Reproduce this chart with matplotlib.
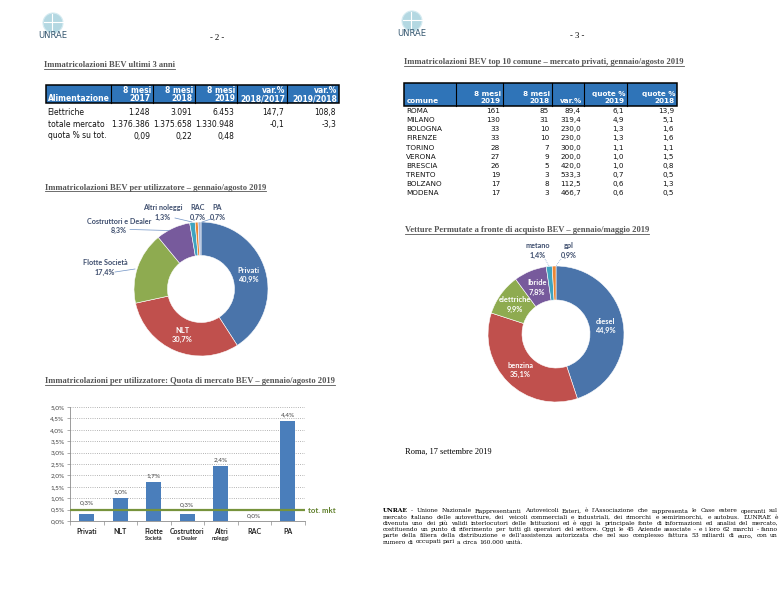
import matplotlib
matplotlib.use("Agg")
import numpy as np
import matplotlib.pyplot as plt
from matplotlib.patches import Rectangle, Ellipse
from matplotlib.lines import Line2D

W, H = 783, 600

# tabella BEV ultimi 3 anni
t1_header = ["Alimentazione", "8 mesi\n2017", "8 mesi\n2018", "8 mesi\n2019", "var.%\n2018/2017", "var.%\n2019/2018"]
t1_labels = ["Elettriche", "totale mercato", "quota % su tot."]
t1_2017 = ["1.248", "1.376.386", "0,09"]
t1_2018 = ["3.091", "1.375.658", "0,22"]
t1_2019 = ["6.453", "1.330.948", "0,48"]
t1_var_18_17 = ["147,7", "-0,1", ""]
t1_var_19_18 = ["108,8", "-3,3", ""]

# top 10 comuni
t2_header = ["comune", "8 mesi\n2019", "8 mesi\n2018", "var.%", "quote %\n2019", "quote %\n2018"]
comuni = ["ROMA", "MILANO", "BOLOGNA", "FIRENZE", "TORINO", "VERONA", "BRESCIA", "TRENTO", "BOLZANO", "MODENA"]
mesi_2019 = [161, 130, 33, 33, 28, 27, 26, 19, 17, 17]
mesi_2018 = [85, 31, 10, 10, 7, 9, 5, 3, 8, 3]
var_pct = ["89,4", "319,4", "230,0", "230,0", "300,0", "200,0", "420,0", "533,3", "112,5", "466,7"]
quote_2019 = ["6,1", "4,9", "1,3", "1,3", "1,1", "1,0", "1,0", "0,7", "0,6", "0,6"]
quote_2018 = ["13,9", "5,1", "1,6", "1,6", "1,1", "1,5", "0,8", "0,5", "1,3", "0,5"]

# donut utilizzatori
utilizzatori = ["Privati", "NLT", "Flotte Società", "Costruttori e Dealer", "Altri noleggi", "RAC", "PA"]
quota_utilizzatori = [40.9, 30.7, 17.4, 8.3, 1.3, 0.7, 0.7]

# donut permute
alimentazioni = ["diesel", "benzina", "elettriche", "Ibride", "metano", "gpl"]
quota_permute = [44.9, 35.1, 9.9, 7.8, 1.4, 0.9]

# barre quota di mercato
bar_cat1 = ["Privati", "NLT", "Flotte", "Costruttori", "Altri", "RAC", "PA"]
bar_cat2 = ["", "", "Società", "e Dealer", "noleggi", "", ""]
quota_bev = [0.3, 1.0, 1.7, 0.3, 2.4, 0.0, 4.4]
tot_mkt = 0.48

BLUE_HDR = "#2f74b8"
PIE_COLORS = ["#4a74aa", "#c0504d", "#8eab50", "#775a9c", "#3fa3bf", "#ec8634", "#a3b6d9"]
TITLE_C = "#555555"
LABEL_C = "#3e4e6e"
SERIF = "Liberation Serif"
SANS = "DejaVu Sans"
CAL = "Lato"

fig = plt.figure(figsize=(W / 100, H / 100), dpi=100)
fig.patch.set_facecolor("white")
renderer = fig.canvas.get_renderer()


def ft(x, y, s, **kw):
    return fig.text(x / W, 1 - y / H, s, **kw)


def fline(x0, y0, x1, y1, **kw):
    fig.add_artist(Line2D([x0 / W, x1 / W], [1 - y0 / H, 1 - y1 / H], transform=fig.transFigure, **kw))


def title(x, y, s):
    t = ft(x, y, s, fontsize=6.1, family=SERIF, weight="bold", color=TITLE_C, va="baseline")
    bb = t.get_window_extent(renderer)
    fline(bb.x0, y + 1.6, bb.x1, y + 1.6, color=TITLE_C, lw=0.6)


def logo(cx, cy):
    fig.add_artist(Ellipse((cx / W, 1 - cy / H), 20 / W, 20 / H, transform=fig.transFigure,
                           facecolor="#b4d8e2", edgecolor="#d5ebf1", lw=0.8))
    fline(cx - 1, cy - 9.5, cx - 1, cy + 9.5, color="white", lw=0.8)
    fline(cx - 9.5, cy - 1, cx + 9.5, cy - 1, color="white", lw=0.8)
    ft(cx, cy + 13, "UNRAE", fontsize=6.0, family=SANS, color="#34566f", ha="center", va="center")


def table(edges, top, bottom, header, columns, rows_y, fs, hdr_y):
    fig.add_artist(Rectangle((edges[0] / W, 1 - bottom / H), (edges[-1] - edges[0]) / W, (bottom - top) / H,
                             transform=fig.transFigure, facecolor=BLUE_HDR, edgecolor="black", lw=1.1))
    for e in edges[1:-1]:
        fline(e, top, e, bottom, color="black", lw=0.8)
    ft(edges[0] + 2.5, hdr_y[1], header[0], ha="left", va="center", color="white",
       weight="bold", fontsize=fs, family=SANS)
    for k in range(1, len(header)):
        parts = header[k].split("\n")
        ys = hdr_y[-len(parts):]
        for p, yy in zip(parts, ys):
            ft(edges[k + 1] - 2, yy, p, ha="right", va="center", color="white", weight="bold",
               fontsize=fs, family=SANS)
    for i, y in enumerate(rows_y):
        ft(edges[0] + 2, y, columns[0][i], ha="left", va="center", fontsize=fs, family=SANS, color="#111111")
        for k in range(1, len(columns)):
            ft(edges[k + 1] - 3, y, str(columns[k][i]), ha="right", va="center", fontsize=fs,
               family=SANS, color="#111111")


def donut(cx, cy, r, values):
    ax = fig.add_axes([(cx - r) / W, 1 - (cy + r) / H, 2 * r / W, 2 * r / H])
    wedges, _ = ax.pie(values, colors=PIE_COLORS[:len(values)], startangle=90, counterclock=False, radius=1,
                       wedgeprops=dict(width=0.5, edgecolor="white", linewidth=0.4))
    ax.set_xlim(-1, 1)
    ax.set_ylim(-1, 1)
    ax.axis("off")
    return ax, wedges


def pct(v):
    return f"{v:.1f}%".replace(".", ",")


# intestazioni pagine
logo(53, 23)
logo(412, 21)
ft(217, 38, "- 2 -", fontsize=6.2, family=SERIF, ha="center", va="center")
ft(577, 36, "- 3 -", fontsize=6.2, family=SERIF, ha="center", va="center")

# tabella 1
title(44, 67, "Immatricolazioni BEV ultimi 3 anni")
table([45.7, 111, 153, 195, 237, 287, 339], 85, 103, t1_header,
      [t1_labels, t1_2017, t1_2018, t1_2019, t1_var_18_17, t1_var_19_18], [112.7, 124.3, 136], 5.5,
      [90.3, 98.6])

# tabella 2
title(404, 64, "Immatricolazioni BEV top 10 comune – mercato privati, gennaio/agosto 2019")
table([404, 455.7, 503, 552, 584, 627, 677], 83, 106, t2_header,
      [comuni, mesi_2019, mesi_2018, var_pct, quote_2019, quote_2018],
      [111 + 9.15 * i for i in range(len(comuni))], 5.2, [93.8, 101])

# donut utilizzatori
title(45, 189.5, "Immatricolazioni BEV per utilizzatore – gennaio/agosto 2019")
ax1, w1 = donut(201, 289, 67, quota_utilizzatori)
for k in range(2):
    ang = np.deg2rad((w1[k].theta1 + w1[k].theta2) / 2)
    ax1.text(0.74 * np.cos(ang), 0.74 * np.sin(ang), f"{utilizzatori[k]}\n{pct(quota_utilizzatori[k])}",
             ha="center", va="center", color="white", fontsize=5.4, family=CAL, weight="bold", linespacing=1.35)
out1_pos = {2: (105, 267.5), 3: (119, 226), 4: (162.5, 212.5), 5: (198, 212.5), 6: (217.5, 212.5)}
for k, (x, y) in out1_pos.items():
    ft(x, y, f"{utilizzatori[k]}\n{pct(quota_utilizzatori[k])}", ha="center", va="center", color=LABEL_C,
       fontsize=5.2, family=CAL, weight="bold", linespacing=1.35)
lc = "#6f92c4"
fline(115, 272, 135, 269, color=lc, lw=0.5)
fline(130, 229.5, 169, 230.5, color=lc, lw=0.5)
fline(175, 218, 192, 222, color=lc, lw=0.5)
fline(211, 219, 202, 222, color=lc, lw=0.5)

# barre quota di mercato
title(45, 383, "Immatricolazioni per utilizzatore: Quota di mercato BEV – gennaio/agosto 2019")
ax3 = fig.add_axes([70 / W, 1 - 521 / H, 234.5 / W, 114 / H])
x = np.arange(len(quota_bev))
ax3.bar(x, quota_bev, width=0.45, color="#4a7ebb", zorder=3)
ax3.axhline(tot_mkt, color="#77933c", lw=1.6, zorder=4)
ax3.set_xlim(-0.5, len(quota_bev) - 0.5)
ax3.set_ylim(0, 5)
yt = np.arange(0, 5.01, 0.5)
ax3.set_yticks(yt)
ax3.set_yticklabels([pct(v) for v in yt], fontsize=4.6, family=CAL, color="#404040")
ax3.set_xticks([])
ax3.set_xticks(np.arange(-0.5, len(quota_bev)), minor=True)
ax3.tick_params(axis="x", which="minor", length=3, width=0.5, color="#8c8c8c", direction="out")
ax3.tick_params(axis="y", length=2, width=0.5, color="#8c8c8c", pad=2)
ax3.grid(axis="y", linestyle=":", color="#9a9a9a", lw=0.6, zorder=0)
for s in ["top", "right"]:
    ax3.spines[s].set_visible(False)
for s in ["left", "bottom"]:
    ax3.spines[s].set_color("#8c8c8c")
    ax3.spines[s].set_linewidth(0.6)
label_off = [8.5, 4.6, 4.6, 6.9, 4.6, 3.6, 4.6]
for i, v in enumerate(quota_bev):
    ax3.annotate(pct(v), (i, v), xytext=(0, label_off[i]), textcoords="offset points", ha="center",
                 va="center", fontsize=4.6, family=CAL, color="#404040")
    ax3.text(i, -0.09, bar_cat1[i], transform=ax3.get_xaxis_transform(), ha="center", va="center",
             fontsize=5.0, family=CAL, weight="bold", color="#222222")
    if bar_cat2[i]:
        ax3.text(i, -0.155, bar_cat2[i], transform=ax3.get_xaxis_transform(), ha="center", va="center",
                 fontsize=3.9, family=CAL, weight="bold", color="#222222")
ax3.text(1.015, tot_mkt, "tot. mkt", transform=ax3.get_yaxis_transform(), ha="left", va="center",
         fontsize=5.6, family=CAL, weight="bold", color="#5f7f2a")

# donut permute
title(405, 232, "Vetture Permutate a fronte di acquisto BEV – gennaio/maggio 2019")
ax2, w2 = donut(556, 334, 68, quota_permute)
for k in range(4):
    ang = np.deg2rad((w2[k].theta1 + w2[k].theta2) / 2)
    ax2.text(0.74 * np.cos(ang), 0.74 * np.sin(ang), f"{alimentazioni[k]}\n{pct(quota_permute[k])}",
             ha="center", va="center", color="white", fontsize=5.4, family=CAL, weight="bold", linespacing=1.35)
out2_pos = {4: (537.5, 250.5), 5: (569, 250.5)}
for k, (x, y) in out2_pos.items():
    ft(x, y, f"{alimentazioni[k]}\n{pct(quota_permute[k])}", ha="center", va="center", color=LABEL_C,
       fontsize=5.2, family=CAL, weight="bold", linespacing=1.35)
fline(545, 259, 549, 266, color=lc, lw=0.5, linestyle=":")
fline(561, 259, 556, 266, color=lc, lw=0.5, linestyle=":")

# testo finale
ft(405, 452, "Roma, 17 settembre 2019", fontsize=6.0, family=SERIF, va="center")

paragrafo = [
    "UNRAE - Unione Nazionale Rappresentanti Autoveicoli Esteri, è l’Associazione che rappresenta le Case estere operanti sul",
    "mercato italiano delle autovetture, dei veicoli commerciali e industriali, dei rimorchi e semirimorchi, e autobus. L’UNRAE è",
    "divenuta uno dei più validi interlocutori delle Istituzioni ed è oggi la principale fonte di informazioni ed analisi del mercato,",
    "costituendo un punto di riferimento per tutti gli operatori del settore. Oggi le 45 Aziende associate - e i loro 62 marchi - fanno",
    "parte della filiera della distribuzione e dell’assistenza autorizzata che nel suo complesso fattura 53 miliardi di euro, con un",
    "numero di occupati pari a circa 160.000 unità.",
]
PSERIF = "DejaVu Serif"
x0, x1 = 383, 778
# corpo scelto perché la riga più lunga riempia la giustezza (con un tetto)
probe = ft(0, 0, max(paragrafo, key=len), fontsize=5.0, family=PSERIF)
psize = min(4.7, 5.0 * (x1 - x0 - 6) / probe.get_window_extent(renderer).width)
probe.remove()
for n, line in enumerate(paragrafo):
    y = 512.5 + 6.2 * n
    words = line.split(" ")
    texts = []
    for j, w in enumerate(words):
        bold = (n == 0 and j == 0)
        texts.append(ft(0, y, w, fontsize=psize, family=PSERIF, weight="bold" if bold else "normal",
                        va="baseline", ha="left", color="black"))
    widths = [t.get_window_extent(renderer).width for t in texts]
    if n == len(paragrafo) - 1:
        gap = 0.3 * psize * 100 / 72
    else:
        gap = (x1 - x0 - sum(widths)) / (len(words) - 1)
    xx = x0
    for t, wdt in zip(texts, widths):
        t.set_position((xx / W, 1 - y / H))
        xx += wdt + gap

fig.savefig("out.png", dpi=100, facecolor="white")
